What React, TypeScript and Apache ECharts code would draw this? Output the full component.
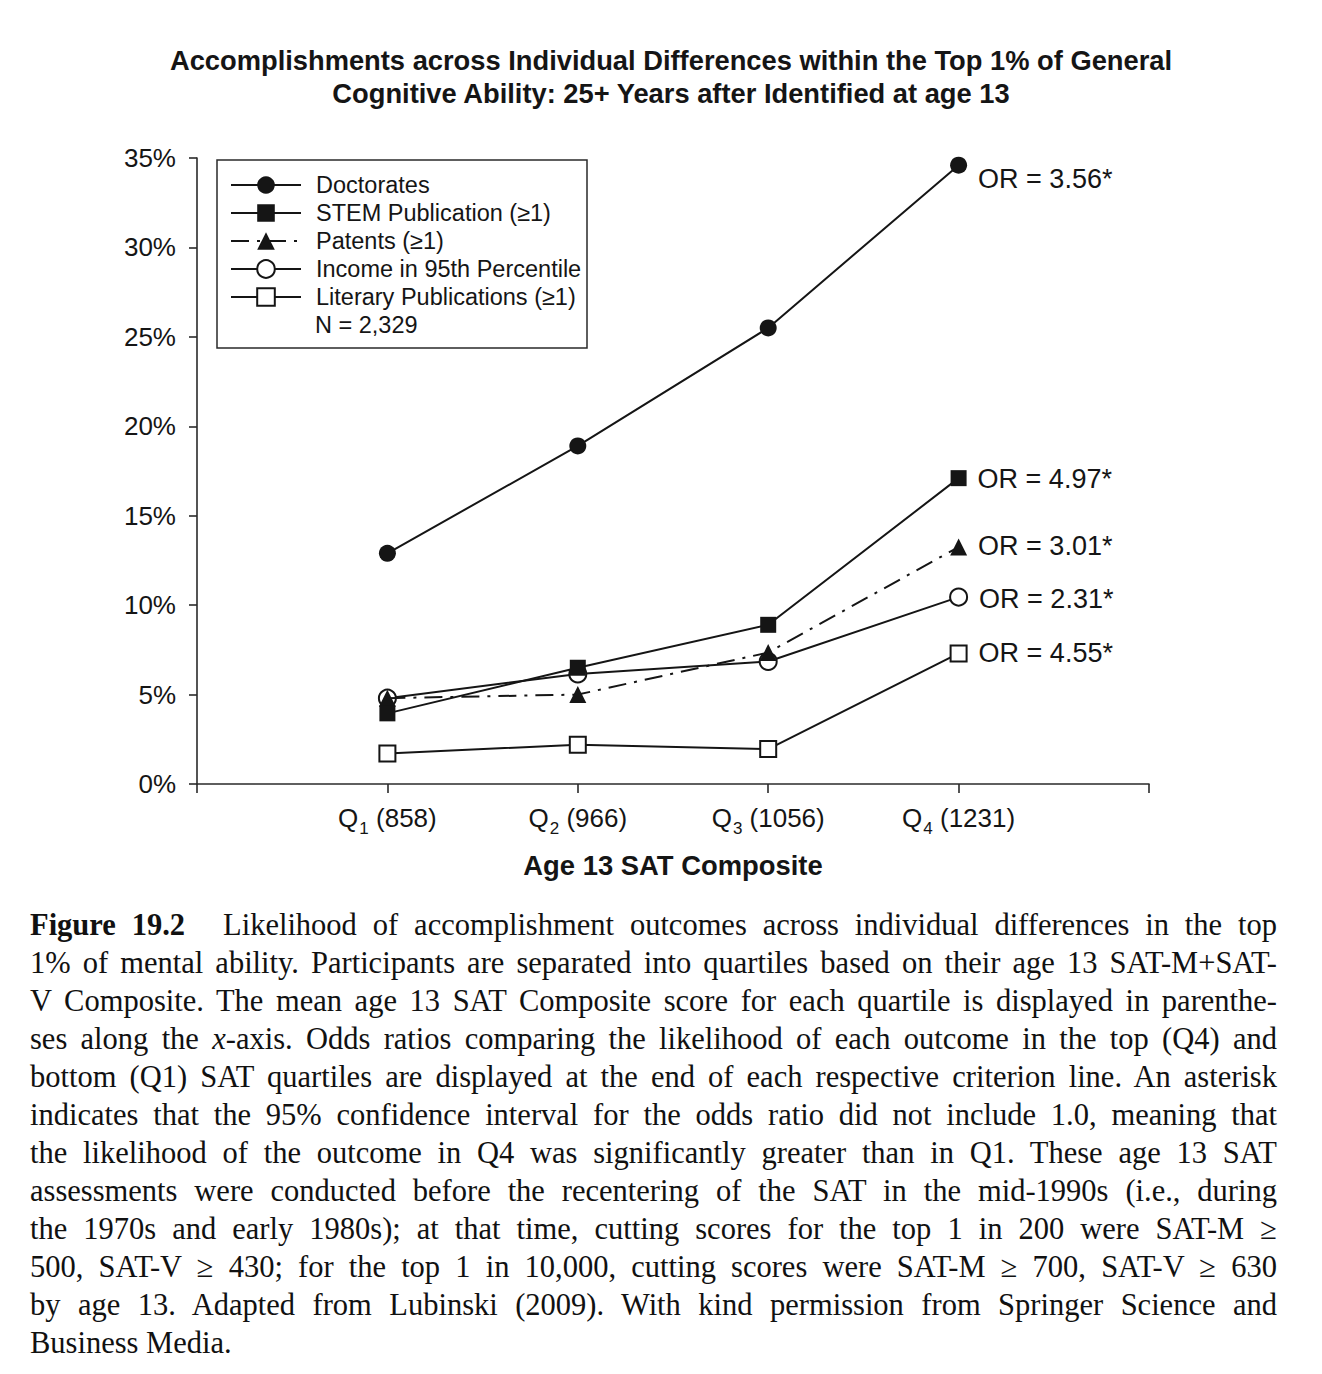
import React, { useEffect, useRef } from 'react';
import * as echarts from 'echarts';

const quartiles = ['1', '2', '3', '4'];
const meanScores = ['858', '966', '1056', '1231'];
const yTickStep = 5;
const yMax = 35;
const doctorates = [12.9, 18.9, 25.5, 34.6];
const stemPubs = [3.95, 6.5, 8.9, 17.1];
const patents = [4.8, 5.0, 7.35, 13.25];
const income = [4.8, 6.15, 6.85, 10.45];
const literary = [1.7, 2.2, 1.95, 7.3];
const seriesNames = [
  'Doctorates',
  'STEM Publication (≥1)',
  'Patents (≥1)',
  'Income in 95th Percentile',
  'Literary Publications (≥1)',
];
const oddsRatios = ['3.56*', '4.97*', '3.01*', '2.31*', '4.55*'];
const sampleNote = 'N = 2,329';
const titleLines = [
  'Accomplishments across Individual Differences within the Top 1% of General',
  'Cognitive Ability: 25+ Years after Identified at age 13',
];
const xAxisTitle = 'Age 13 SAT Composite';

const INK = '#151515';
const SANS = '"Liberation Sans", Arial, Helvetica, sans-serif';
const SERIF = '"Liberation Serif", "Times New Roman", serif';

const captionLines: React.ReactNode[] = [
  <>
    <b>Figure 19.2</b>
    <span style={{ display: 'inline-block', width: 22 }} /> Likelihood of accomplishment outcomes across individual differences in the top
  </>,
  <>1% of mental ability. Participants are separated into quartiles based on their age 13 SAT-M+SAT-</>,
  <>V Composite. The mean age 13 SAT Composite score for each quartile is displayed in parenthe-</>,
  <>
    ses along the <i>x</i>-axis. Odds ratios comparing the likelihood of each outcome in the top (Q4) and
  </>,
  <>bottom (Q1) SAT quartiles are displayed at the end of each respective criterion line. An asterisk</>,
  <>indicates that the 95% confidence interval for the odds ratio did not include 1.0, meaning that</>,
  <>the likelihood of the outcome in Q4 was significantly greater than in Q1. These age 13 SAT</>,
  <>assessments were conducted before the recentering of the SAT in the mid-1990s (i.e., during</>,
  <>the 1970s and early 1980s); at that time, cutting scores for the top 1 in 200 were SAT-M ≥</>,
  <>500, SAT-V ≥ 430; for the top 1 in 10,000, cutting scores were SAT-M ≥ 700, SAT-V ≥ 630</>,
  <>by age 13. Adapted from Lubinski (2009). With kind permission from Springer Science and</>,
  <>Business Media.</>,
];

type Def = {
  values: number[];
  symbol: string;
  size: number;
  filled: boolean;
  dash: any;
  labelOffset: number[];
};

const defs: Def[] = [
  { values: doctorates, symbol: 'circle', size: 17, filled: true, dash: 'solid', labelOffset: [0, 14] },
  { values: stemPubs, symbol: 'rect', size: 16, filled: true, dash: 'solid', labelOffset: [0, 1] },
  { values: patents, symbol: 'triangle', size: 17, filled: true, dash: [18, 8, 3, 8], labelOffset: [0, -1] },
  { values: income, symbol: 'circle', size: 17, filled: false, dash: 'solid', labelOffset: [0, 2] },
  { values: literary, symbol: 'rect', size: 16, filled: false, dash: 'solid', labelOffset: [0, 0] },
];

export default function App() {
  const ref = useRef<HTMLDivElement>(null);

  useEffect(() => {
    if (!ref.current) return;
    const chart = echarts.init(ref.current, undefined, { renderer: 'svg' });

    const series = defs.map((d, si) => ({
      name: seriesNames[si],
      type: 'line',
      symbol: d.symbol,
      symbolSize: d.size,
      z: 10 - si,
      lineStyle: { color: INK, width: 2, type: d.dash },
      itemStyle: {
        color: d.filled ? INK : '#ffffff',
        borderColor: INK,
        borderWidth: d.filled ? 0 : 2,
      },
      emphasis: { disabled: true },
      data: d.values.map((v, i) => {
        const item: any = { value: [i + 1, v] };
        if (i === d.values.length - 1) {
          item.label = {
            show: true,
            position: 'right',
            distance: 11,
            offset: d.labelOffset,
            formatter: 'OR = ' + oddsRatios[si],
            fontFamily: SANS,
            fontSize: 27,
            color: INK,
          };
        }
        return item;
      }),
    }));

    chart.setOption({
      animation: false,
      backgroundColor: '#ffffff',
      textStyle: { fontFamily: SANS, color: INK },
      grid: { left: 197, top: 158, width: 952, height: 626 },
      xAxis: {
        type: 'value',
        min: 0,
        max: quartiles.length + 1,
        interval: 1,
        name: xAxisTitle,
        nameLocation: 'middle',
        nameGap: 68,
        nameTextStyle: { fontFamily: SANS, fontSize: 27.4, fontWeight: 'bold', color: INK },
        axisLine: { show: true, lineStyle: { color: '#2a2a2a', width: 1.6 } },
        axisTick: { show: true, length: 9, lineStyle: { color: '#2a2a2a', width: 1.6 } },
        splitLine: { show: false },
        axisLabel: {
          margin: 21,
          fontFamily: SANS,
          fontSize: 26,
          lineHeight: 30,
          color: INK,
          formatter: (v: number) => {
            const i = Math.round(v) - 1;
            if (i < 0 || i >= quartiles.length) return '';
            return `{m|Q}{s|${quartiles[i]}}{m| (${meanScores[i]})}`;
          },
          rich: {
            m: { fontFamily: SANS, fontSize: 26, lineHeight: 30, color: INK, verticalAlign: 'top' },
            s: {
              fontFamily: SANS,
              fontSize: 17,
              lineHeight: 14,
              padding: [15, 0, 0, 1],
              color: INK,
              verticalAlign: 'top',
            },
          },
        },
      },
      yAxis: {
        type: 'value',
        min: 0,
        max: yMax,
        interval: yTickStep,
        axisLine: { show: true, lineStyle: { color: '#2a2a2a', width: 1.6 } },
        axisTick: { show: true, length: 8, lineStyle: { color: '#2a2a2a', width: 1.6 } },
        splitLine: { show: false },
        axisLabel: {
          margin: 21,
          fontFamily: SANS,
          fontSize: 26,
          color: INK,
          formatter: '{value}%',
        },
      },
      legend: {
        show: true,
        orient: 'vertical',
        left: 230,
        top: 173,
        padding: 0,
        itemWidth: 70,
        itemHeight: 22,
        itemGap: 4,
        selectedMode: false,
        data: seriesNames,
        textStyle: {
          fontFamily: SANS,
          fontSize: 23.5,
          lineHeight: 24,
          color: INK,
          padding: [0, 0, 0, 10],
        },
      },
      graphic: [
        {
          type: 'rect',
          shape: { x: 217, y: 160, width: 370, height: 188 },
          style: { fill: 'none', stroke: '#2a2a2a', lineWidth: 1.5 },
          silent: true,
        },
        {
          type: 'text',
          x: 315,
          y: 325,
          style: {
            text: sampleNote,
            fontFamily: SANS,
            fontSize: 23.5,
            fill: INK,
            verticalAlign: 'middle',
            align: 'left',
          },
          silent: true,
        },
        {
          type: 'text',
          x: 671,
          y: 44,
          style: {
            text: titleLines.join('\n'),
            fontFamily: SANS,
            fontSize: 27.3,
            fontWeight: 'bold',
            lineHeight: 33,
            fill: INK,
            align: 'center',
            verticalAlign: 'top',
          },
          silent: true,
        },
      ],
      series,
    });

    return () => chart.dispose();
  }, []);

  return (
    <div style={{ position: 'absolute', left: 0, top: 0, width: 1322, height: 1374, background: '#fff' }}>
      <div ref={ref} style={{ position: 'absolute', left: 0, top: 0, width: 1322, height: 900 }} />
      <div
        style={{
          position: 'absolute',
          left: 30,
          top: 906,
          width: 1247,
          fontFamily: SERIF,
          fontSize: 30.5,
          lineHeight: '38px',
          color: '#111',
        }}
      >
        {captionLines.map((l, i) => (
          <div
            key={i}
            style={{
              textAlign: i === captionLines.length - 1 ? 'left' : 'justify',
              textAlignLast: i === captionLines.length - 1 ? 'left' : 'justify',
              height: 38,
            }}
          >
            {l}
          </div>
        ))}
      </div>
    </div>
  );
}
